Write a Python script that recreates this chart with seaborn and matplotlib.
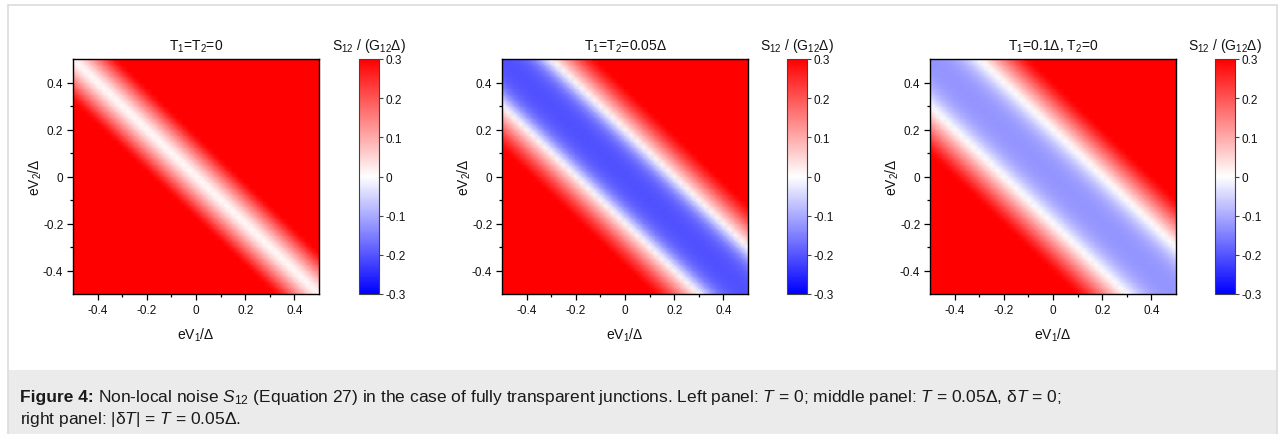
import numpy as np
import pandas as pd
import matplotlib
matplotlib.use("Agg")
import matplotlib.pyplot as plt
import seaborn as sns
from matplotlib.patches import Rectangle

sns.set_theme(style="ticks")
plt.rcParams["font.family"] = ["Liberation Sans", "DejaVu Sans"]
plt.rcParams["mathtext.fontset"] = "custom"
plt.rcParams["mathtext.rm"] = "Liberation Sans"
plt.rcParams["mathtext.it"] = "Liberation Sans:italic"
plt.rcParams["mathtext.bf"] = "Liberation Sans:bold"
plt.rcParams["axes.unicode_minus"] = False

# ---------------- data ----------------
# voltage grid (eV/Δ), step 0.025
V1 = np.round(np.arange(-0.5, 0.5001, 0.025), 3)
V2 = np.round(np.arange(-0.5, 0.5001, 0.025), 3)

# S12/(G12 Δ) read along the diagonal coordinate s = eV1/Δ + eV2/Δ, s = -1 ... 1 (step 0.025)
S_T0 = [1.620, 1.580, 1.540, 1.500, 1.460, 1.420, 1.380, 1.340, 1.300, 1.260,
        1.220, 1.180, 1.140, 1.100, 1.060, 1.020, 0.980, 0.940, 0.900, 0.860,
        0.820, 0.780, 0.740, 0.700, 0.660, 0.620, 0.580, 0.540, 0.500, 0.460,
        0.420, 0.380, 0.340, 0.300, 0.260, 0.210, 0.160, 0.115, 0.070, 0.030,
        0.000,
        0.030, 0.070, 0.115, 0.160, 0.210, 0.260, 0.300, 0.340, 0.380, 0.420,
        0.460, 0.500, 0.540, 0.580, 0.620, 0.660, 0.700, 0.740, 0.780, 0.820,
        0.860, 0.900, 0.940, 0.980, 1.020, 1.060, 1.100, 1.140, 1.180, 1.220,
        1.260, 1.300, 1.340, 1.380, 1.420, 1.460, 1.500, 1.540, 1.580, 1.620]

S_T005 = [1.050, 1.020, 0.990, 0.960, 0.930, 0.900, 0.870, 0.840, 0.810, 0.780,
          0.750, 0.720, 0.690, 0.660, 0.630, 0.600, 0.570, 0.540, 0.510, 0.480,
          0.450, 0.420, 0.390, 0.360, 0.330, 0.300, 0.265, 0.230, 0.190, 0.145,
          0.100, 0.055, 0.005, -0.050, -0.105, -0.150, -0.175, -0.190, -0.198, -0.203,
          -0.205,
          -0.203, -0.198, -0.190, -0.175, -0.150, -0.105, -0.050, 0.005, 0.055, 0.100,
          0.145, 0.190, 0.230, 0.265, 0.300, 0.330, 0.360, 0.390, 0.420, 0.450,
          0.480, 0.510, 0.540, 0.570, 0.600, 0.630, 0.660, 0.690, 0.720, 0.750,
          0.780, 0.810, 0.840, 0.870, 0.900, 0.930, 0.960, 0.990, 1.020, 1.050]

S_T01 = [1.025, 0.995, 0.965, 0.935, 0.905, 0.875, 0.845, 0.815, 0.785, 0.755,
         0.725, 0.695, 0.665, 0.635, 0.605, 0.575, 0.545, 0.515, 0.485, 0.455,
         0.425, 0.395, 0.365, 0.335, 0.305, 0.270, 0.235, 0.195, 0.155, 0.115,
         0.075, 0.035, 0.000, -0.030, -0.060, -0.085, -0.102, -0.113, -0.120, -0.124,
         -0.125,
         -0.124, -0.120, -0.113, -0.102, -0.085, -0.060, -0.030, 0.000, 0.035, 0.075,
         0.115, 0.155, 0.195, 0.235, 0.270, 0.305, 0.335, 0.365, 0.395, 0.425,
         0.455, 0.485, 0.515, 0.545, 0.575, 0.605, 0.635, 0.665, 0.695, 0.725,
         0.755, 0.785, 0.815, 0.845, 0.875, 0.905, 0.935, 0.965, 0.995, 1.025]

profiles = [S_T0, S_T005, S_T01]
titles = ["T$_1$=T$_2$=0", "T$_1$=T$_2$=0.05Δ", "T$_1$=0.1Δ, T$_2$=0"]
major_ticks = [-0.4, -0.2, 0.0, 0.2, 0.4]
major_labels = ["-0.4", "-0.2", "0", "0.2", "0.4"]
minor_ticks = [-0.3, -0.1, 0.1, 0.3]
cbar_ticks = [0.3, 0.2, 0.1, 0.0, -0.1, -0.2, -0.3]
cbar_labels = ["0.3", "0.2", "0.1", "0", "-0.1", "-0.2", "-0.3"]

# ---------------- figure ----------------
W, H = 1278, 435
fig = plt.figure(figsize=(W / 100, H / 100), dpi=100)
fig.patch.set_facecolor("white")

fig.add_artist(Rectangle((8 / W, 0), (1277 - 8) / W, 64 / H, transform=fig.transFigure,
                         facecolor="#ebebeb", edgecolor="none", zorder=0))
fig.add_artist(Rectangle((8 / W, -0.01), (1277 - 8) / W, (435 - 6) / H + 0.01,
                         transform=fig.transFigure, facecolor="none",
                         edgecolor="#dcdcdc", lw=1.2, zorder=1))

ax_lefts = [73, 502, 930]
cb_lefts = [359, 787, 1215]
ax_top, ax_bot = 60, 295
step = V1[1] - V1[0]

def to_pos(vals, arr):
    return [(v - arr[0]) / step for v in vals]

for k in range(3):
    ax = fig.add_axes([ax_lefts[k] / W, 1 - ax_bot / H, 246 / W, (ax_bot - ax_top) / H])
    cax = fig.add_axes([cb_lefts[k] / W, 1 - ax_bot / H, 20 / W, (ax_bot - ax_top) / H])
    idx = np.add.outer(np.arange(len(V2)), np.arange(len(V1)))
    Z = pd.DataFrame(np.asarray(profiles[k])[idx], index=V2, columns=V1)
    sns.heatmap(Z, ax=ax, cbar_ax=cax, cmap="bwr", vmin=-0.3, vmax=0.3,
                shading="gouraud", xticklabels=False, yticklabels=False)
    ax.set_xlim(0, len(V1) - 1)
    ax.set_ylim(0, len(V2) - 1)
    for sp in ax.spines.values():
        sp.set_visible(True)
        sp.set_color("black")
        sp.set_linewidth(1.0)
    ax.set_xticks(to_pos(major_ticks, V1))
    ax.set_xticklabels(major_labels)
    ax.set_xticks(to_pos(minor_ticks, V1), minor=True)
    ax.set_yticks(to_pos(major_ticks, V2))
    ax.set_yticklabels(major_labels)
    ax.set_yticks(to_pos(minor_ticks, V2), minor=True)
    ax.tick_params(which="both", direction="out", color="black", width=0.9,
                   bottom=True, left=True, top=False, right=False)
    ax.tick_params(which="major", length=4, labelsize=8.5, pad=3, labelcolor="#111111")
    ax.tick_params(which="minor", length=2.5)
    ax.set_xlabel("eV$_1$/Δ", fontsize=10, labelpad=7, color="#111111")
    ax.set_ylabel("eV$_2$/Δ", fontsize=10, labelpad=-1, color="#111111")
    ax.set_title(titles[k], fontsize=10, pad=7, color="#111111")

    cb = ax.collections[0].colorbar
    cb.set_ticks(cbar_ticks)
    cb.set_ticklabels(cbar_labels)
    cb.outline.set_linewidth(0.8)
    cb.outline.set_edgecolor("#444444")
    cax.tick_params(direction="out", length=3, width=0.8, labelsize=8.5, pad=2,
                    color="#444444", labelcolor="#111111")
    cax.set_title("S$_{12}$ / (G$_{12}$Δ)", fontsize=10, pad=7, color="#111111")

# caption
cap_size = 12.5
y1 = 1 - 398 / H
y2 = 1 - 420 / H
bold = fig.text(20 / W, y1, "Figure 4:", fontsize=cap_size, fontweight="bold",
                va="center", ha="left", color="#1a1a1a")
renderer = fig.canvas.get_renderer()
bb = bold.get_window_extent(renderer=renderer)
fig.text((bb.x1 + 4) / W, y1,
         r"Non-local noise $S_{12}$ (Equation 27) in the case of fully transparent "
         r"junctions. Left panel: $T$ = 0; middle panel: $T$ = 0.05Δ, δ$T$ = 0;",
         fontsize=cap_size, va="center", ha="left", color="#1a1a1a")
fig.text(20 / W, y2, r"right panel: |δ$T$| = $T$ = 0.05Δ.",
         fontsize=cap_size, va="center", ha="left", color="#1a1a1a")

fig.savefig("out.png", dpi=100, facecolor="white")
